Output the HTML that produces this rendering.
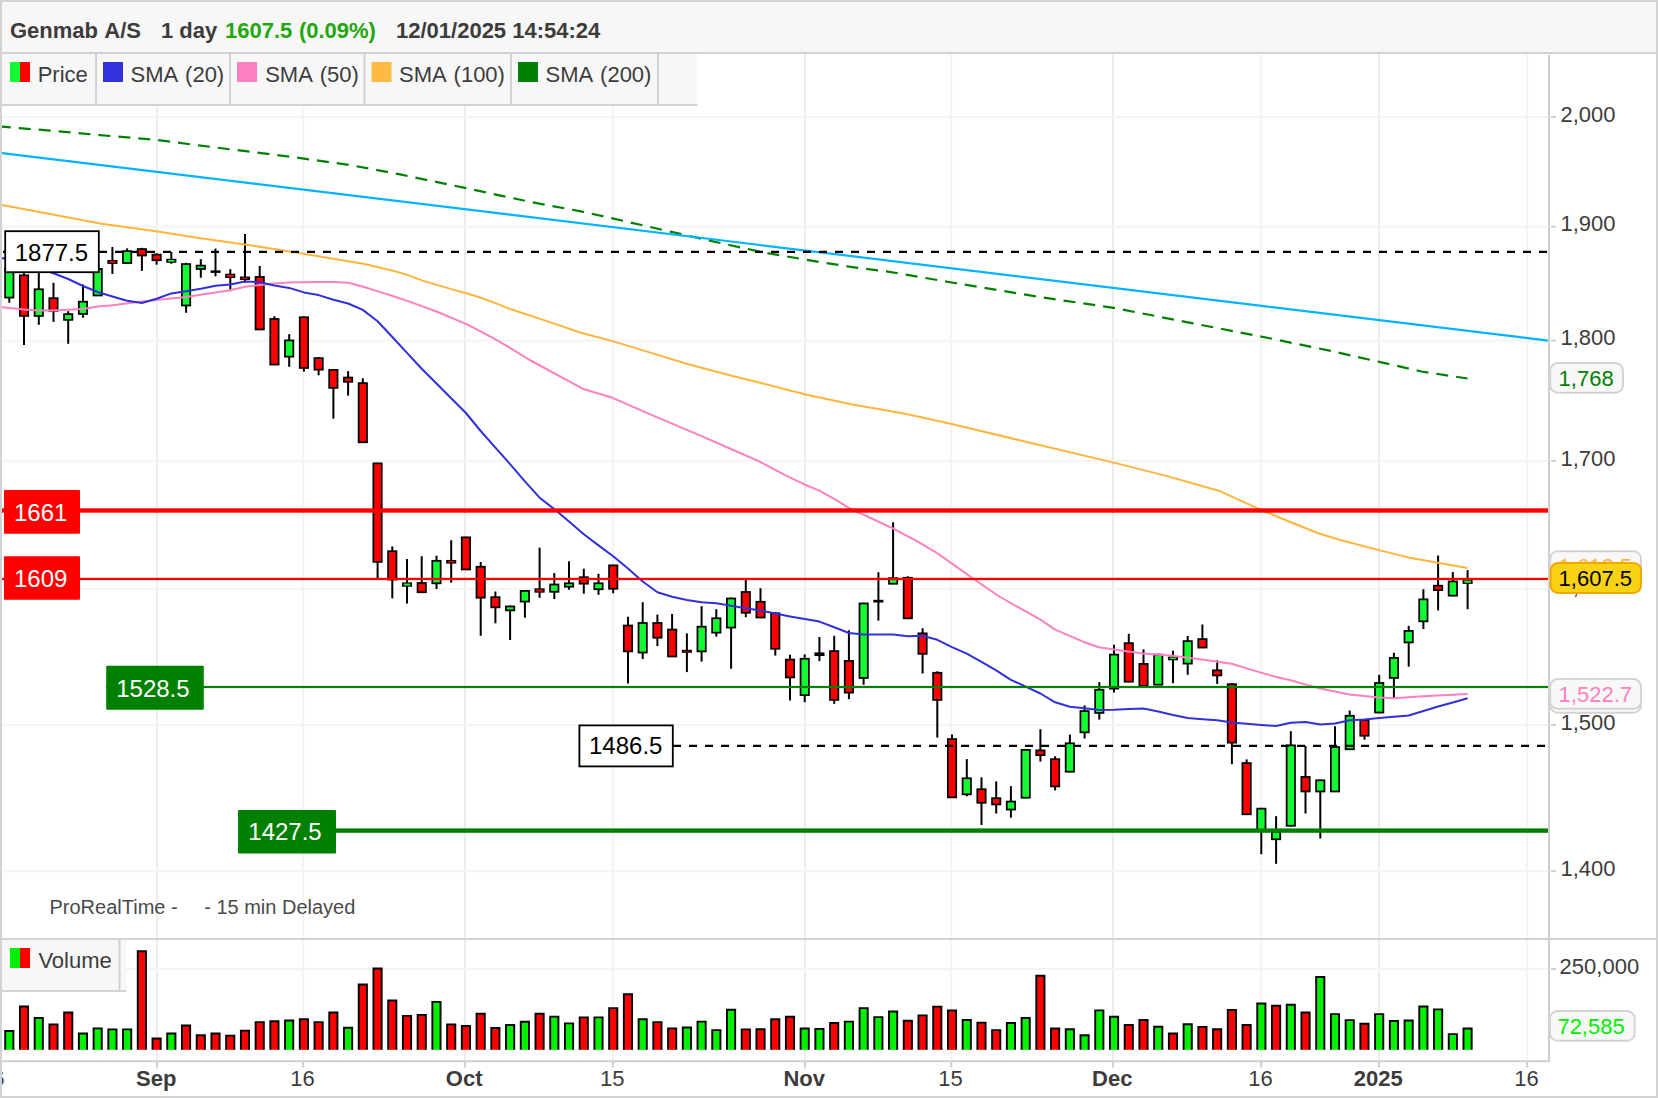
<!DOCTYPE html>
<html lang="en"><head><meta charset="utf-8"><title>Genmab A/S - 1 day</title>
<style>html,body{margin:0;padding:0;background:#fff;}svg{display:block;}</style></head>
<body>
<svg width="1658" height="1098" viewBox="0 0 1658 1098" font-family='"Liberation Sans", Arial, sans-serif'>
<rect x="0" y="0" width="1658" height="1098" fill="#ffffff"/>
<rect x="0" y="0" width="1658" height="53" fill="#f7f7f7"/>
<rect x="156" y="54" width="2" height="1006" fill="#ececec"/>
<rect x="464" y="54" width="2" height="1006" fill="#ececec"/>
<rect x="804" y="54" width="2" height="1006" fill="#ececec"/>
<rect x="1112" y="54" width="2" height="1006" fill="#ececec"/>
<rect x="1378" y="54" width="2" height="1006" fill="#ececec"/>
<rect x="302.2" y="54" width="2" height="1006" fill="#f3f3f3"/>
<rect x="612" y="54" width="2" height="1006" fill="#f3f3f3"/>
<rect x="950.3" y="54" width="2" height="1006" fill="#f3f3f3"/>
<rect x="1260.2" y="54" width="2" height="1006" fill="#f3f3f3"/>
<rect x="1526.2" y="54" width="2" height="1006" fill="#f3f3f3"/>
<rect x="2" y="116" width="1546" height="2" fill="#f4f4f4"/>
<rect x="2" y="225.7" width="1546" height="2" fill="#f4f4f4"/>
<rect x="2" y="339.6" width="1546" height="2" fill="#f4f4f4"/>
<rect x="2" y="459.8" width="1546" height="2" fill="#f4f4f4"/>
<rect x="2" y="588" width="1546" height="2" fill="#f4f4f4"/>
<rect x="2" y="724" width="1546" height="2" fill="#f4f4f4"/>
<rect x="2" y="870.2" width="1546" height="2" fill="#f4f4f4"/>
<rect x="2" y="968" width="1546" height="2" fill="#f4f4f4"/>
<rect x="1551" y="116" width="5" height="2" fill="#cfcfcf"/>
<text x="1560.4" y="121.7" font-size="22" fill="#3c3c3c">2,000</text>
<rect x="1551" y="225.7" width="5" height="2" fill="#cfcfcf"/>
<text x="1560.4" y="231.4" font-size="22" fill="#3c3c3c">1,900</text>
<rect x="1551" y="339.6" width="5" height="2" fill="#cfcfcf"/>
<text x="1560.4" y="345.3" font-size="22" fill="#3c3c3c">1,800</text>
<rect x="1551" y="459.8" width="5" height="2" fill="#cfcfcf"/>
<text x="1560.4" y="465.5" font-size="22" fill="#3c3c3c">1,700</text>
<rect x="1551" y="588" width="5" height="2" fill="#cfcfcf"/>
<text x="1560.4" y="593.7" font-size="22" fill="#3c3c3c">1,600</text>
<rect x="1551" y="724" width="5" height="2" fill="#cfcfcf"/>
<text x="1560.4" y="729.7" font-size="22" fill="#3c3c3c">1,500</text>
<rect x="1551" y="870.2" width="5" height="2" fill="#cfcfcf"/>
<text x="1560.4" y="875.9" font-size="22" fill="#3c3c3c">1,400</text>
<rect x="1551" y="968" width="5" height="2" fill="#cfcfcf"/>
<text x="1559.6" y="973.8" font-size="22" fill="#3c3c3c">250,000</text>
<g stroke="#000" stroke-width="1.75">
<line x1="9.3" y1="267.4" x2="9.3" y2="302.7" stroke-width="2"/>
<rect x="5.13" y="268.90" width="8.35" height="28.70" fill="#14fa32"/>
<line x1="24.0" y1="270.9" x2="24.0" y2="345.0" stroke-width="2"/>
<rect x="19.86" y="275.29" width="8.35" height="40.66" fill="#ff0000"/>
<line x1="38.8" y1="269.7" x2="38.8" y2="324.8" stroke-width="2"/>
<rect x="34.59" y="289.27" width="8.35" height="26.68" fill="#14fa32"/>
<line x1="53.5" y1="282.8" x2="53.5" y2="321.9" stroke-width="2"/>
<rect x="49.31" y="298.15" width="8.35" height="12.71" fill="#ff0000"/>
<line x1="68.2" y1="311.2" x2="68.2" y2="343.8" stroke-width="2"/>
<rect x="64.05" y="314.14" width="8.35" height="5.72" fill="#14fa32"/>
<line x1="83.0" y1="284.6" x2="83.0" y2="317.7" stroke-width="2"/>
<rect x="78.78" y="301.71" width="8.35" height="12.23" fill="#14fa32"/>
<line x1="97.7" y1="268.3" x2="97.7" y2="296.0" stroke-width="2"/>
<rect x="93.50" y="268.90" width="8.35" height="26.57" fill="#14fa32"/>
<line x1="112.4" y1="247.0" x2="112.4" y2="273.9" stroke-width="2"/>
<rect x="107.36" y="259.97" width="10.10" height="3.92" fill="#000" stroke="none"/>
<rect x="109.11" y="261.12" width="6.60" height="1.62" fill="#ff0000" stroke="none"/>
<line x1="127.1" y1="248.4" x2="127.1" y2="263.6" stroke-width="2"/>
<rect x="122.97" y="251.13" width="8.35" height="11.88" fill="#14fa32"/>
<line x1="141.9" y1="247.8" x2="141.9" y2="270.9" stroke-width="2"/>
<rect x="137.69" y="249.05" width="8.35" height="6.45" fill="#ff0000"/>
<line x1="156.6" y1="253.2" x2="156.6" y2="264.7" stroke-width="2"/>
<rect x="152.43" y="254.62" width="8.35" height="5.61" fill="#ff0000"/>
<line x1="171.3" y1="252.0" x2="171.3" y2="263.8" stroke-width="2"/>
<rect x="166.28" y="258.81" width="10.10" height="3.98" fill="#000" stroke="none"/>
<rect x="168.03" y="259.96" width="6.60" height="1.68" fill="#14fa32" stroke="none"/>
<line x1="186.1" y1="262.8" x2="186.1" y2="312.8" stroke-width="2"/>
<rect x="181.88" y="264.08" width="8.35" height="41.41" fill="#14fa32"/>
<line x1="200.8" y1="259.1" x2="200.8" y2="277.7" stroke-width="2"/>
<rect x="196.62" y="265.60" width="8.35" height="3.41" fill="#14fa32"/>
<line x1="215.5" y1="248.6" x2="215.5" y2="276.3" stroke-width="2"/>
<rect x="210.5" y="270.4" width="10.1" height="2.5" fill="#000" stroke="none"/>
<line x1="230.3" y1="269.2" x2="230.3" y2="291.2" stroke-width="2"/>
<rect x="225.20" y="273.67" width="10.10" height="4.32" fill="#000" stroke="none"/>
<rect x="226.95" y="274.82" width="6.60" height="2.02" fill="#ff0000" stroke="none"/>
<line x1="245.0" y1="234.1" x2="245.0" y2="282.8" stroke-width="2"/>
<rect x="239.93" y="276.55" width="10.10" height="3.47" fill="#000" stroke="none"/>
<rect x="241.68" y="277.70" width="6.60" height="1.17" fill="#ff0000" stroke="none"/>
<line x1="259.7" y1="265.9" x2="259.7" y2="330.0" stroke-width="2"/>
<rect x="255.53" y="276.91" width="8.35" height="52.56" fill="#ff0000"/>
<line x1="274.4" y1="316.2" x2="274.4" y2="365.2" stroke-width="2"/>
<rect x="270.26" y="318.95" width="8.35" height="45.63" fill="#ff0000"/>
<line x1="289.2" y1="334.2" x2="289.2" y2="366.8" stroke-width="2"/>
<rect x="285.00" y="340.40" width="8.35" height="16.25" fill="#14fa32"/>
<line x1="303.9" y1="316.2" x2="303.9" y2="371.6" stroke-width="2"/>
<rect x="299.73" y="317.26" width="8.35" height="50.70" fill="#ff0000"/>
<line x1="318.6" y1="357.2" x2="318.6" y2="375.3" stroke-width="2"/>
<rect x="314.45" y="358.13" width="8.35" height="11.52" fill="#ff0000"/>
<line x1="333.4" y1="369.4" x2="333.4" y2="418.7" stroke-width="2"/>
<rect x="329.19" y="369.95" width="8.35" height="17.93" fill="#ff0000"/>
<line x1="348.1" y1="371.1" x2="348.1" y2="395.6" stroke-width="2"/>
<rect x="343.92" y="377.55" width="8.35" height="4.25" fill="#ff0000"/>
<line x1="362.8" y1="378.3" x2="362.8" y2="442.8" stroke-width="2"/>
<rect x="358.64" y="383.13" width="8.35" height="59.14" fill="#ff0000"/>
<line x1="377.6" y1="462.8" x2="377.6" y2="579.8" stroke-width="2"/>
<rect x="373.38" y="463.38" width="8.35" height="98.50" fill="#ff0000"/>
<line x1="392.3" y1="546.4" x2="392.3" y2="598.4" stroke-width="2"/>
<rect x="388.11" y="551.20" width="8.35" height="28.41" fill="#ff0000"/>
<line x1="407.0" y1="559.1" x2="407.0" y2="603.5" stroke-width="2"/>
<rect x="401.96" y="582.41" width="10.10" height="4.32" fill="#000" stroke="none"/>
<rect x="403.71" y="583.56" width="6.60" height="2.02" fill="#14fa32" stroke="none"/>
<line x1="421.7" y1="556.2" x2="421.7" y2="592.8" stroke-width="2"/>
<rect x="417.56" y="582.95" width="8.35" height="9.32" fill="#ff0000"/>
<line x1="436.5" y1="555.7" x2="436.5" y2="589.0" stroke-width="2"/>
<rect x="432.30" y="560.82" width="8.35" height="22.49" fill="#14fa32"/>
<line x1="451.2" y1="540.2" x2="451.2" y2="582.7" stroke-width="2"/>
<rect x="446.15" y="559.95" width="10.10" height="3.64" fill="#000" stroke="none"/>
<rect x="447.90" y="561.10" width="6.60" height="1.34" fill="#ff0000" stroke="none"/>
<line x1="465.9" y1="536.8" x2="465.9" y2="570.0" stroke-width="2"/>
<rect x="461.75" y="537.35" width="8.35" height="32.12" fill="#ff0000"/>
<line x1="480.7" y1="562.0" x2="480.7" y2="635.8" stroke-width="2"/>
<rect x="476.49" y="566.75" width="8.35" height="30.94" fill="#ff0000"/>
<line x1="495.4" y1="591.5" x2="495.4" y2="623.3" stroke-width="2"/>
<rect x="491.22" y="597.15" width="8.35" height="10.17" fill="#ff0000"/>
<line x1="510.1" y1="605.5" x2="510.1" y2="640.0" stroke-width="2"/>
<rect x="505.94" y="606.44" width="8.35" height="3.92" fill="#14fa32"/>
<line x1="524.9" y1="590.3" x2="524.9" y2="617.7" stroke-width="2"/>
<rect x="520.68" y="590.90" width="8.35" height="10.67" fill="#14fa32"/>
<line x1="539.6" y1="547.6" x2="539.6" y2="597.8" stroke-width="2"/>
<rect x="534.53" y="588.34" width="10.10" height="4.32" fill="#000" stroke="none"/>
<rect x="536.28" y="589.49" width="6.60" height="2.02" fill="#ff0000" stroke="none"/>
<line x1="554.3" y1="573.1" x2="554.3" y2="599.1" stroke-width="2"/>
<rect x="550.13" y="584.49" width="8.35" height="7.29" fill="#14fa32"/>
<line x1="569.0" y1="561.3" x2="569.0" y2="589.8" stroke-width="2"/>
<rect x="564.87" y="583.30" width="8.35" height="3.41" fill="#14fa32"/>
<line x1="583.8" y1="568.7" x2="583.8" y2="593.7" stroke-width="2"/>
<rect x="579.60" y="577.22" width="8.35" height="6.45" fill="#ff0000"/>
<line x1="598.5" y1="573.8" x2="598.5" y2="594.9" stroke-width="2"/>
<rect x="594.33" y="583.30" width="8.35" height="5.94" fill="#14fa32"/>
<line x1="613.2" y1="564.5" x2="613.2" y2="593.2" stroke-width="2"/>
<rect x="609.06" y="565.40" width="8.35" height="23.34" fill="#ff0000"/>
<line x1="628.0" y1="616.8" x2="628.0" y2="683.6" stroke-width="2"/>
<rect x="623.78" y="625.53" width="8.35" height="25.87" fill="#ff0000"/>
<line x1="642.7" y1="602.2" x2="642.7" y2="659.1" stroke-width="2"/>
<rect x="638.51" y="622.99" width="8.35" height="29.59" fill="#14fa32"/>
<line x1="657.4" y1="614.6" x2="657.4" y2="646.1" stroke-width="2"/>
<rect x="653.25" y="622.99" width="8.35" height="14.73" fill="#ff0000"/>
<line x1="672.1" y1="614.0" x2="672.1" y2="657.0" stroke-width="2"/>
<rect x="667.98" y="629.58" width="8.35" height="26.89" fill="#ff0000"/>
<line x1="686.9" y1="633.4" x2="686.9" y2="672.1" stroke-width="2"/>
<rect x="681.83" y="649.82" width="10.10" height="2.96" fill="#000" stroke="none"/>
<rect x="683.58" y="650.95" width="6.60" height="0.70" fill="#ff0000" stroke="none"/>
<line x1="701.6" y1="606.2" x2="701.6" y2="661.6" stroke-width="2"/>
<rect x="697.44" y="626.71" width="8.35" height="24.69" fill="#14fa32"/>
<line x1="716.3" y1="609.2" x2="716.3" y2="636.6" stroke-width="2"/>
<rect x="712.16" y="618.26" width="8.35" height="14.39" fill="#14fa32"/>
<line x1="731.1" y1="597.4" x2="731.1" y2="668.7" stroke-width="2"/>
<rect x="726.89" y="598.50" width="8.35" height="29.08" fill="#14fa32"/>
<line x1="745.8" y1="579.2" x2="745.8" y2="617.2" stroke-width="2"/>
<rect x="741.62" y="591.98" width="8.35" height="20.81" fill="#ff0000"/>
<line x1="760.5" y1="588.2" x2="760.5" y2="618.1" stroke-width="2"/>
<rect x="756.36" y="601.78" width="8.35" height="15.74" fill="#ff0000"/>
<line x1="775.3" y1="612.2" x2="775.3" y2="655.6" stroke-width="2"/>
<rect x="771.09" y="613.26" width="8.35" height="35.50" fill="#ff0000"/>
<line x1="790.0" y1="654.7" x2="790.0" y2="700.5" stroke-width="2"/>
<rect x="785.82" y="659.58" width="8.35" height="17.85" fill="#ff0000"/>
<line x1="804.7" y1="654.4" x2="804.7" y2="702.2" stroke-width="2"/>
<rect x="800.55" y="658.78" width="8.35" height="36.35" fill="#14fa32"/>
<line x1="819.4" y1="637.0" x2="819.4" y2="661.1" stroke-width="2"/>
<rect x="814.4" y="652.4" width="10.1" height="3.6" fill="#000" stroke="none"/>
<line x1="834.2" y1="635.8" x2="834.2" y2="703.8" stroke-width="2"/>
<rect x="830.00" y="651.08" width="8.35" height="48.85" fill="#ff0000"/>
<line x1="848.9" y1="630.3" x2="848.9" y2="699.1" stroke-width="2"/>
<rect x="844.74" y="660.88" width="8.35" height="31.75" fill="#ff0000"/>
<line x1="863.6" y1="602.6" x2="863.6" y2="684.8" stroke-width="2"/>
<rect x="859.47" y="603.46" width="8.35" height="74.51" fill="#14fa32"/>
<line x1="878.4" y1="572.2" x2="878.4" y2="620.6" stroke-width="2"/>
<rect x="873.3" y="599.8" width="10.1" height="2.7" fill="#000" stroke="none"/>
<line x1="893.1" y1="522.2" x2="893.1" y2="584.3" stroke-width="2"/>
<rect x="888.93" y="578.13" width="8.35" height="5.61" fill="#14fa32"/>
<line x1="907.8" y1="576.2" x2="907.8" y2="618.9" stroke-width="2"/>
<rect x="903.65" y="577.79" width="8.35" height="40.57" fill="#ff0000"/>
<line x1="922.6" y1="628.2" x2="922.6" y2="673.5" stroke-width="2"/>
<rect x="918.38" y="633.36" width="8.35" height="20.47" fill="#ff0000"/>
<line x1="937.3" y1="671.3" x2="937.3" y2="737.6" stroke-width="2"/>
<rect x="933.12" y="672.78" width="8.35" height="27.15" fill="#ff0000"/>
<line x1="952.0" y1="734.6" x2="952.0" y2="798.0" stroke-width="2"/>
<rect x="947.85" y="739.08" width="8.35" height="58.30" fill="#ff0000"/>
<line x1="966.8" y1="759.1" x2="966.8" y2="796.3" stroke-width="2"/>
<rect x="962.58" y="778.26" width="8.35" height="16.08" fill="#14fa32"/>
<line x1="981.5" y1="777.4" x2="981.5" y2="825.0" stroke-width="2"/>
<rect x="977.31" y="789.24" width="8.35" height="13.54" fill="#ff0000"/>
<line x1="996.2" y1="781.4" x2="996.2" y2="813.5" stroke-width="2"/>
<rect x="992.04" y="798.19" width="8.35" height="6.28" fill="#ff0000"/>
<line x1="1010.9" y1="786.1" x2="1010.9" y2="817.7" stroke-width="2"/>
<rect x="1006.76" y="801.57" width="8.35" height="7.97" fill="#14fa32"/>
<line x1="1025.7" y1="749.0" x2="1025.7" y2="798.3" stroke-width="2"/>
<rect x="1021.50" y="749.89" width="8.35" height="47.83" fill="#14fa32"/>
<line x1="1040.4" y1="729.2" x2="1040.4" y2="761.6" stroke-width="2"/>
<rect x="1036.23" y="750.40" width="8.35" height="4.76" fill="#ff0000"/>
<line x1="1055.1" y1="756.2" x2="1055.1" y2="790.4" stroke-width="2"/>
<rect x="1050.95" y="759.18" width="8.35" height="27.22" fill="#ff0000"/>
<line x1="1069.9" y1="734.6" x2="1069.9" y2="772.3" stroke-width="2"/>
<rect x="1065.68" y="743.30" width="8.35" height="28.41" fill="#14fa32"/>
<line x1="1084.6" y1="705.4" x2="1084.6" y2="738.5" stroke-width="2"/>
<rect x="1080.41" y="711.05" width="8.35" height="21.31" fill="#14fa32"/>
<line x1="1099.3" y1="682.2" x2="1099.3" y2="719.6" stroke-width="2"/>
<rect x="1095.14" y="689.75" width="8.35" height="23.17" fill="#14fa32"/>
<line x1="1114.0" y1="644.8" x2="1114.0" y2="692.6" stroke-width="2"/>
<rect x="1109.88" y="654.62" width="8.35" height="33.98" fill="#14fa32"/>
<line x1="1128.8" y1="633.8" x2="1128.8" y2="682.2" stroke-width="2"/>
<rect x="1124.61" y="643.14" width="8.35" height="38.54" fill="#ff0000"/>
<line x1="1143.5" y1="649.3" x2="1143.5" y2="686.5" stroke-width="2"/>
<rect x="1139.34" y="663.91" width="8.35" height="21.99" fill="#ff0000"/>
<line x1="1158.2" y1="653.7" x2="1158.2" y2="685.3" stroke-width="2"/>
<rect x="1154.07" y="654.62" width="8.35" height="30.09" fill="#14fa32"/>
<line x1="1173.0" y1="650.7" x2="1173.0" y2="683.3" stroke-width="2"/>
<rect x="1167.92" y="656.45" width="10.10" height="3.81" fill="#000" stroke="none"/>
<rect x="1169.67" y="657.60" width="6.60" height="1.51" fill="#14fa32" stroke="none"/>
<line x1="1187.7" y1="636.0" x2="1187.7" y2="674.8" stroke-width="2"/>
<rect x="1183.53" y="641.11" width="8.35" height="22.49" fill="#14fa32"/>
<line x1="1202.4" y1="624.5" x2="1202.4" y2="648.1" stroke-width="2"/>
<rect x="1198.26" y="639.08" width="8.35" height="8.48" fill="#ff0000"/>
<line x1="1217.2" y1="660.3" x2="1217.2" y2="683.9" stroke-width="2"/>
<rect x="1212.99" y="670.33" width="8.35" height="5.10" fill="#ff0000"/>
<line x1="1231.9" y1="683.1" x2="1231.9" y2="764.2" stroke-width="2"/>
<rect x="1227.72" y="684.18" width="8.35" height="58.47" fill="#ff0000"/>
<line x1="1246.6" y1="759.4" x2="1246.6" y2="814.8" stroke-width="2"/>
<rect x="1242.44" y="763.06" width="8.35" height="51.21" fill="#ff0000"/>
<line x1="1261.3" y1="807.8" x2="1261.3" y2="854.2" stroke-width="2"/>
<rect x="1257.17" y="808.66" width="8.35" height="22.16" fill="#14fa32"/>
<line x1="1276.1" y1="816.2" x2="1276.1" y2="863.8" stroke-width="2"/>
<rect x="1271.90" y="831.97" width="8.35" height="7.29" fill="#14fa32"/>
<line x1="1290.8" y1="731.2" x2="1290.8" y2="826.7" stroke-width="2"/>
<rect x="1286.63" y="745.33" width="8.35" height="80.42" fill="#14fa32"/>
<line x1="1305.5" y1="745.9" x2="1305.5" y2="813.5" stroke-width="2"/>
<rect x="1301.37" y="776.91" width="8.35" height="14.56" fill="#ff0000"/>
<line x1="1320.3" y1="779.4" x2="1320.3" y2="838.5" stroke-width="2"/>
<rect x="1316.10" y="780.29" width="8.35" height="11.18" fill="#14fa32"/>
<line x1="1335.0" y1="726.2" x2="1335.0" y2="792.0" stroke-width="2"/>
<rect x="1330.83" y="747.02" width="8.35" height="44.45" fill="#14fa32"/>
<line x1="1349.7" y1="710.5" x2="1349.7" y2="749.8" stroke-width="2"/>
<rect x="1345.56" y="715.78" width="8.35" height="33.47" fill="#14fa32"/>
<line x1="1364.5" y1="719.6" x2="1364.5" y2="739.7" stroke-width="2"/>
<rect x="1360.29" y="720.17" width="8.35" height="15.57" fill="#ff0000"/>
<line x1="1379.2" y1="674.8" x2="1379.2" y2="713.1" stroke-width="2"/>
<rect x="1375.02" y="682.95" width="8.35" height="29.59" fill="#14fa32"/>
<line x1="1393.9" y1="652.8" x2="1393.9" y2="699.1" stroke-width="2"/>
<rect x="1389.75" y="657.95" width="8.35" height="19.96" fill="#14fa32"/>
<line x1="1408.7" y1="625.8" x2="1408.7" y2="666.7" stroke-width="2"/>
<rect x="1404.48" y="630.93" width="8.35" height="11.52" fill="#14fa32"/>
<line x1="1423.4" y1="589.3" x2="1423.4" y2="629.0" stroke-width="2"/>
<rect x="1419.20" y="599.35" width="8.35" height="21.99" fill="#14fa32"/>
<line x1="1438.1" y1="555.5" x2="1438.1" y2="610.4" stroke-width="2"/>
<rect x="1433.93" y="585.67" width="8.35" height="4.42" fill="#ff0000"/>
<line x1="1452.8" y1="572.1" x2="1452.8" y2="596.2" stroke-width="2"/>
<rect x="1448.66" y="581.45" width="8.35" height="14.22" fill="#14fa32"/>
<line x1="1467.6" y1="570.1" x2="1467.6" y2="609.2" stroke-width="2"/>
<rect x="1462.52" y="579.39" width="10.10" height="4.48" fill="#000" stroke="none"/>
<rect x="1464.27" y="580.54" width="6.60" height="2.18" fill="#14fa32" stroke="none"/>
</g>
<polyline points="2.0,126.7 50.0,130.6 100.2,135.1 157.8,140.1 200.4,145.6 250.4,151.8 300.5,158.1 350.6,165.1 400.0,174.4 464.8,187.9 529.7,201.8 580.9,211.4 612.6,218.4 671.4,231.9 716.6,242.2 761.9,252.1 805.6,259.7 852.4,267.2 886.2,271.3 951.8,282.5 1044.1,297.7 1113.8,307.9 1187.6,322.3 1261.5,336.6 1331.2,351.0 1380.4,362.1 1421.4,371.5 1467.6,378.5" fill="none" stroke="#008000" stroke-width="2.2" stroke-linejoin="round" stroke-dasharray="12 8" stroke-dashoffset="3.2"/>
<polyline points="2.0,153.1 1548.0,340.6" fill="none" stroke="#00b4ff" stroke-width="2.2" stroke-linejoin="round" />
<polyline points="2.0,205.1 50.0,214.0 100.2,223.5 157.8,231.5 200.4,238.2 250.4,245.3 300.5,253.3 340.6,260.0 363.4,263.7 392.1,270.5 407.3,274.9 422.5,280.6 452.9,289.6 466.4,293.3 481.6,298.0 496.8,303.6 510.0,309.0 541.7,319.4 580.9,332.7 612.6,341.1 650.3,352.6 686.5,363.7 731.7,375.8 761.9,383.3 805.6,394.5 852.4,404.4 880.0,409.2 908.7,414.6 951.8,424.0 1023.6,441.2 1113.8,462.6 1167.1,476.1 1220.4,491.3 1261.5,510.1 1290.2,522.0 1318.9,533.5 1340.5,540.0 1378.9,550.1 1408.3,557.4 1437.8,562.8 1467.6,567.9" fill="none" stroke="#ffb43c" stroke-width="2" stroke-linejoin="round" />
<polyline points="2.0,307.3 23.7,309.4 38.8,310.4 53.3,310.6 68.2,309.8 82.9,309.0 98.0,306.6 112.5,305.3 141.9,301.6 186.1,296.9 230.0,290.2 245.2,286.7 259.6,285.0 273.9,283.6 289.1,282.6 314.4,282.1 333.0,282.1 348.2,282.8 363.4,286.7 378.6,291.6 392.1,295.8 407.3,300.9 422.5,306.4 437.7,312.0 452.9,318.3 466.4,324.2 481.6,331.8 496.8,340.2 510.0,347.8 529.7,360.0 584.0,389.3 612.6,397.8 650.3,414.4 701.6,436.1 740.0,453.0 760.3,461.9 785.6,475.4 805.0,484.7 819.4,490.6 834.6,499.1 849.8,508.4 871.7,518.5 892.8,528.3 917.3,541.3 935.9,552.3 952.8,564.1 973.3,578.7 1000.0,597.0 1040.0,619.4 1055.2,629.6 1084.2,642.2 1099.0,647.3 1113.6,649.5 1143.0,653.5 1172.6,655.7 1202.1,659.4 1231.5,663.8 1260.9,672.6 1275.6,676.8 1290.5,680.2 1305.2,684.4 1320.3,688.6 1349.3,694.5 1378.9,697.6 1393.6,698.3 1423.0,696.2 1467.6,694.0" fill="none" stroke="#ff80c0" stroke-width="2" stroke-linejoin="round" />
<polyline points="2.0,258.0 9.3,259.5 24.0,264.0 38.8,268.5 53.5,273.2 68.2,279.0 83.0,286.0 97.7,292.0 112.4,296.5 127.1,300.8 141.9,303.0 156.6,298.8 171.3,293.4 186.1,291.2 200.8,288.7 215.5,285.8 230.3,284.4 245.0,281.4 259.7,282.3 274.4,285.5 289.2,287.9 303.9,292.4 318.6,295.1 333.4,299.8 348.1,303.5 362.8,309.9 377.6,321.2 392.3,337.0 407.0,352.9 421.7,368.8 436.5,383.5 451.2,398.3 465.9,413.0 480.7,431.0 495.4,447.6 510.1,464.2 524.9,481.3 539.6,497.7 554.3,509.1 569.0,521.6 583.8,534.2 598.5,545.4 613.2,556.2 628.0,568.6 642.7,581.5 657.4,592.2 672.1,596.7 686.9,600.0 701.6,602.2 716.3,603.3 731.1,605.8 745.8,608.2 760.5,610.5 775.3,613.5 790.0,616.4 804.7,619.0 819.4,621.6 834.2,627.3 848.9,633.0 863.6,634.5 878.4,634.6 893.1,634.6 907.8,636.2 922.6,635.8 937.3,639.8 952.0,647.1 966.8,653.7 981.5,661.8 996.2,670.4 1010.9,679.9 1025.7,686.6 1040.4,693.5 1055.1,702.3 1069.9,706.8 1084.6,708.2 1099.3,710.1 1114.0,709.8 1128.8,708.9 1143.5,708.6 1158.2,711.6 1173.0,714.9 1187.7,718.0 1202.4,719.2 1217.2,720.2 1231.9,722.4 1246.6,723.8 1261.3,725.0 1276.1,726.0 1290.8,722.8 1305.5,722.0 1320.3,724.5 1335.0,723.6 1349.7,720.3 1364.5,719.4 1379.2,718.0 1393.9,716.8 1408.7,715.5 1423.4,711.0 1438.1,706.5 1452.8,702.5 1467.6,698.3" fill="none" stroke="#3030dc" stroke-width="2" stroke-linejoin="round" />
<line x1="3" y1="251.9" x2="1547" y2="251.9" stroke="#000" stroke-width="2.2" stroke-dasharray="8 8"/>
<line x1="673" y1="745.8" x2="1547" y2="745.8" stroke="#000" stroke-width="2.2" stroke-dasharray="8 8" stroke-dashoffset="0"/>
<rect x="2" y="508.3" width="1546" height="4.4" fill="#ff0000"/>
<rect x="2" y="577.8" width="1546" height="2.3" fill="#ff0000"/>
<rect x="106" y="685.9" width="1442" height="2.2" fill="#008000"/>
<rect x="238" y="828.4" width="1310" height="4.4" fill="#008000"/>
<rect x="5.2" y="231.2" width="93.6" height="41" fill="#fff" stroke="#000" stroke-width="1.8"/>
<text x="14.7" y="260.8" font-size="24" fill="#000">1877.5</text>
<rect x="4" y="490" width="76" height="43.8" rx="1" fill="#ff0000"/>
<text x="14" y="520.6" font-size="24" fill="#fff">1661</text>
<rect x="4" y="556.2" width="76" height="43.6" rx="1" fill="#ff0000"/>
<text x="14" y="586.7" font-size="24" fill="#fff">1609</text>
<rect x="106.2" y="665.8" width="97.6" height="44" rx="1" fill="#008000"/>
<text x="116.2" y="696.5" font-size="24" fill="#fff">1528.5</text>
<rect x="579.4" y="725.4" width="93.4" height="41" fill="#fff" stroke="#000" stroke-width="1.8"/>
<text x="589" y="754.2" font-size="24" fill="#000">1486.5</text>
<rect x="238" y="810" width="98" height="43.4" rx="1" fill="#008000"/>
<text x="248.3" y="840.4" font-size="24" fill="#fff">1427.5</text>
<text x="49.5" y="914.2" font-size="20" fill="#4a4a4a">ProRealTime -</text>
<text x="204.2" y="914.2" font-size="20" fill="#4a4a4a">- 15 min Delayed</text>
<rect x="2" y="54" width="695.5" height="50" fill="#f7f7f7"/>
<rect x="2" y="104" width="695.5" height="2" fill="#d2d2d2"/>
<rect x="95" y="54" width="2" height="50" fill="#d2d2d2"/>
<rect x="229" y="54" width="2" height="50" fill="#d2d2d2"/>
<rect x="363.5" y="54" width="2" height="50" fill="#d2d2d2"/>
<rect x="510" y="54" width="2" height="50" fill="#d2d2d2"/>
<rect x="657" y="54" width="2" height="50" fill="#d2d2d2"/>
<rect x="10" y="62" width="10" height="20" fill="#14fa32"/><rect x="20" y="62" width="10" height="20" fill="#ff0000"/>
<rect x="103" y="62" width="20" height="20" fill="#3232dc"/>
<rect x="237" y="62" width="20" height="20" fill="#ff80c0"/>
<rect x="371.5" y="62" width="20" height="20" fill="#ffbb44"/>
<rect x="518" y="62" width="20" height="20" fill="#008000"/>
<text x="37.7" y="81.7" font-size="22" fill="#3c3c3c" style="word-spacing:2px">Price</text>
<text x="130.5" y="81.7" font-size="22" fill="#3c3c3c" style="word-spacing:2px">SMA (20)</text>
<text x="265.2" y="81.7" font-size="22" fill="#3c3c3c" style="word-spacing:2px">SMA (50)</text>
<text x="399" y="81.7" font-size="22" fill="#3c3c3c" style="word-spacing:2px">SMA (100)</text>
<text x="545.5" y="81.7" font-size="22" fill="#3c3c3c" style="word-spacing:2px">SMA (200)</text>
<rect x="0" y="52" width="1658" height="2" fill="#d2d2d2"/>
<g font-size="22" font-weight="bold" fill="#3c3c3c">
<text x="10" y="38" style="word-spacing:1px">Genmab A/S</text>
<text x="161" y="38">1 day</text>
<text x="225" y="38" fill="#22a70c" style="word-spacing:0.5px">1607.5 (0.09%)</text>
<text x="396" y="38">12/01/2025 14:54:24</text>
</g>
<rect x="2" y="938" width="1654" height="2" fill="#d2d2d2"/>
<g stroke="#000" stroke-width="1.9">
<path d="M5.20,1049.8 L5.20,1030.93 L13.40,1030.93 L13.40,1049.8" fill="#00f000"/>
<path d="M19.93,1049.8 L19.93,1006.44 L28.13,1006.44 L28.13,1049.8" fill="#ff0000"/>
<path d="M34.66,1049.8 L34.66,1017.93 L42.86,1017.93 L42.86,1049.8" fill="#00f000"/>
<path d="M49.39,1049.8 L49.39,1024.35 L57.59,1024.35 L57.59,1049.8" fill="#ff0000"/>
<path d="M64.12,1049.8 L64.12,1012.52 L72.32,1012.52 L72.32,1049.8" fill="#ff0000"/>
<path d="M78.85,1049.8 L78.85,1033.47 L87.05,1033.47 L87.05,1049.8" fill="#00f000"/>
<path d="M93.58,1049.8 L93.58,1028.40 L101.78,1028.40 L101.78,1049.8" fill="#00f000"/>
<path d="M108.31,1049.8 L108.31,1029.41 L116.51,1029.41 L116.51,1049.8" fill="#00f000"/>
<path d="M123.04,1049.8 L123.04,1029.41 L131.24,1029.41 L131.24,1049.8" fill="#00f000"/>
<path d="M137.77,1049.8 L137.77,951.22 L145.97,951.22 L145.97,1049.8" fill="#ff0000"/>
<path d="M152.50,1049.8 L152.50,1038.53 L160.70,1038.53 L160.70,1049.8" fill="#ff0000"/>
<path d="M167.23,1049.8 L167.23,1033.47 L175.43,1033.47 L175.43,1049.8" fill="#00f000"/>
<path d="M181.96,1049.8 L181.96,1025.53 L190.16,1025.53 L190.16,1049.8" fill="#ff0000"/>
<path d="M196.69,1049.8 L196.69,1035.32 L204.89,1035.32 L204.89,1049.8" fill="#ff0000"/>
<path d="M211.42,1049.8 L211.42,1033.47 L219.62,1033.47 L219.62,1049.8" fill="#ff0000"/>
<path d="M226.15,1049.8 L226.15,1035.66 L234.35,1035.66 L234.35,1049.8" fill="#ff0000"/>
<path d="M240.88,1049.8 L240.88,1030.60 L249.08,1030.60 L249.08,1049.8" fill="#ff0000"/>
<path d="M255.61,1049.8 L255.61,1022.15 L263.81,1022.15 L263.81,1049.8" fill="#ff0000"/>
<path d="M270.34,1049.8 L270.34,1021.31 L278.54,1021.31 L278.54,1049.8" fill="#ff0000"/>
<path d="M285.07,1049.8 L285.07,1020.46 L293.27,1020.46 L293.27,1049.8" fill="#00f000"/>
<path d="M299.80,1049.8 L299.80,1019.28 L308.00,1019.28 L308.00,1049.8" fill="#ff0000"/>
<path d="M314.53,1049.8 L314.53,1022.15 L322.73,1022.15 L322.73,1049.8" fill="#ff0000"/>
<path d="M329.26,1049.8 L329.26,1012.52 L337.46,1012.52 L337.46,1049.8" fill="#ff0000"/>
<path d="M343.99,1049.8 L343.99,1027.72 L352.19,1027.72 L352.19,1049.8" fill="#00f000"/>
<path d="M358.72,1049.8 L358.72,984.49 L366.92,984.49 L366.92,1049.8" fill="#ff0000"/>
<path d="M373.45,1049.8 L373.45,968.44 L381.65,968.44 L381.65,1049.8" fill="#ff0000"/>
<path d="M388.18,1049.8 L388.18,1000.53 L396.38,1000.53 L396.38,1049.8" fill="#ff0000"/>
<path d="M402.91,1049.8 L402.91,1015.90 L411.11,1015.90 L411.11,1049.8" fill="#ff0000"/>
<path d="M417.64,1049.8 L417.64,1014.89 L425.84,1014.89 L425.84,1049.8" fill="#ff0000"/>
<path d="M432.37,1049.8 L432.37,1001.88 L440.57,1001.88 L440.57,1049.8" fill="#00f000"/>
<path d="M447.10,1049.8 L447.10,1024.35 L455.30,1024.35 L455.30,1049.8" fill="#ff0000"/>
<path d="M461.83,1049.8 L461.83,1026.04 L470.03,1026.04 L470.03,1049.8" fill="#ff0000"/>
<path d="M476.56,1049.8 L476.56,1013.71 L484.76,1013.71 L484.76,1049.8" fill="#ff0000"/>
<path d="M491.29,1049.8 L491.29,1028.06 L499.49,1028.06 L499.49,1049.8" fill="#ff0000"/>
<path d="M506.02,1049.8 L506.02,1025.02 L514.22,1025.02 L514.22,1049.8" fill="#00f000"/>
<path d="M520.75,1049.8 L520.75,1021.81 L528.95,1021.81 L528.95,1049.8" fill="#00f000"/>
<path d="M535.48,1049.8 L535.48,1013.71 L543.68,1013.71 L543.68,1049.8" fill="#ff0000"/>
<path d="M550.21,1049.8 L550.21,1016.58 L558.41,1016.58 L558.41,1049.8" fill="#00f000"/>
<path d="M564.94,1049.8 L564.94,1023.33 L573.14,1023.33 L573.14,1049.8" fill="#00f000"/>
<path d="M579.67,1049.8 L579.67,1017.42 L587.87,1017.42 L587.87,1049.8" fill="#ff0000"/>
<path d="M594.40,1049.8 L594.40,1017.42 L602.60,1017.42 L602.60,1049.8" fill="#00f000"/>
<path d="M609.13,1049.8 L609.13,1008.13 L617.33,1008.13 L617.33,1049.8" fill="#ff0000"/>
<path d="M623.86,1049.8 L623.86,994.28 L632.06,994.28 L632.06,1049.8" fill="#ff0000"/>
<path d="M638.59,1049.8 L638.59,1019.28 L646.79,1019.28 L646.79,1049.8" fill="#00f000"/>
<path d="M653.32,1049.8 L653.32,1022.15 L661.52,1022.15 L661.52,1049.8" fill="#ff0000"/>
<path d="M668.05,1049.8 L668.05,1028.40 L676.25,1028.40 L676.25,1049.8" fill="#ff0000"/>
<path d="M682.78,1049.8 L682.78,1027.56 L690.98,1027.56 L690.98,1049.8" fill="#00f000"/>
<path d="M697.51,1049.8 L697.51,1021.64 L705.71,1021.64 L705.71,1049.8" fill="#00f000"/>
<path d="M712.24,1049.8 L712.24,1030.09 L720.44,1030.09 L720.44,1049.8" fill="#00f000"/>
<path d="M726.97,1049.8 L726.97,1009.82 L735.17,1009.82 L735.17,1049.8" fill="#00f000"/>
<path d="M741.70,1049.8 L741.70,1029.41 L749.90,1029.41 L749.90,1049.8" fill="#ff0000"/>
<path d="M756.43,1049.8 L756.43,1029.24 L764.63,1029.24 L764.63,1049.8" fill="#ff0000"/>
<path d="M771.16,1049.8 L771.16,1019.28 L779.36,1019.28 L779.36,1049.8" fill="#ff0000"/>
<path d="M785.89,1049.8 L785.89,1016.75 L794.09,1016.75 L794.09,1049.8" fill="#ff0000"/>
<path d="M800.62,1049.8 L800.62,1028.57 L808.82,1028.57 L808.82,1049.8" fill="#00f000"/>
<path d="M815.35,1049.8 L815.35,1028.91 L823.55,1028.91 L823.55,1049.8" fill="#00f000"/>
<path d="M830.08,1049.8 L830.08,1023.00 L838.28,1023.00 L838.28,1049.8" fill="#ff0000"/>
<path d="M844.81,1049.8 L844.81,1021.64 L853.01,1021.64 L853.01,1049.8" fill="#00f000"/>
<path d="M859.54,1049.8 L859.54,1008.13 L867.74,1008.13 L867.74,1049.8" fill="#00f000"/>
<path d="M874.27,1049.8 L874.27,1017.08 L882.47,1017.08 L882.47,1049.8" fill="#00f000"/>
<path d="M889.00,1049.8 L889.00,1011.51 L897.20,1011.51 L897.20,1049.8" fill="#00f000"/>
<path d="M903.73,1049.8 L903.73,1020.80 L911.93,1020.80 L911.93,1049.8" fill="#ff0000"/>
<path d="M918.46,1049.8 L918.46,1015.40 L926.66,1015.40 L926.66,1049.8" fill="#ff0000"/>
<path d="M933.19,1049.8 L933.19,1006.61 L941.39,1006.61 L941.39,1049.8" fill="#ff0000"/>
<path d="M947.92,1049.8 L947.92,1010.33 L956.12,1010.33 L956.12,1049.8" fill="#ff0000"/>
<path d="M962.65,1049.8 L962.65,1019.96 L970.85,1019.96 L970.85,1049.8" fill="#00f000"/>
<path d="M977.38,1049.8 L977.38,1022.66 L985.58,1022.66 L985.58,1049.8" fill="#ff0000"/>
<path d="M992.11,1049.8 L992.11,1030.09 L1000.31,1030.09 L1000.31,1049.8" fill="#ff0000"/>
<path d="M1006.84,1049.8 L1006.84,1023.00 L1015.04,1023.00 L1015.04,1049.8" fill="#00f000"/>
<path d="M1021.57,1049.8 L1021.57,1017.93 L1029.77,1017.93 L1029.77,1049.8" fill="#00f000"/>
<path d="M1036.30,1049.8 L1036.30,975.71 L1044.50,975.71 L1044.50,1049.8" fill="#ff0000"/>
<path d="M1051.03,1049.8 L1051.03,1028.57 L1059.23,1028.57 L1059.23,1049.8" fill="#ff0000"/>
<path d="M1065.76,1049.8 L1065.76,1029.24 L1073.96,1029.24 L1073.96,1049.8" fill="#00f000"/>
<path d="M1080.49,1049.8 L1080.49,1035.32 L1088.69,1035.32 L1088.69,1049.8" fill="#00f000"/>
<path d="M1095.22,1049.8 L1095.22,1010.33 L1103.42,1010.33 L1103.42,1049.8" fill="#00f000"/>
<path d="M1109.95,1049.8 L1109.95,1016.75 L1118.15,1016.75 L1118.15,1049.8" fill="#00f000"/>
<path d="M1124.68,1049.8 L1124.68,1025.02 L1132.88,1025.02 L1132.88,1049.8" fill="#ff0000"/>
<path d="M1139.41,1049.8 L1139.41,1019.96 L1147.61,1019.96 L1147.61,1049.8" fill="#ff0000"/>
<path d="M1154.14,1049.8 L1154.14,1026.71 L1162.34,1026.71 L1162.34,1049.8" fill="#00f000"/>
<path d="M1168.87,1049.8 L1168.87,1033.47 L1177.07,1033.47 L1177.07,1049.8" fill="#ff0000"/>
<path d="M1183.60,1049.8 L1183.60,1024.18 L1191.80,1024.18 L1191.80,1049.8" fill="#00f000"/>
<path d="M1198.33,1049.8 L1198.33,1026.88 L1206.53,1026.88 L1206.53,1049.8" fill="#ff0000"/>
<path d="M1213.06,1049.8 L1213.06,1029.24 L1221.26,1029.24 L1221.26,1049.8" fill="#ff0000"/>
<path d="M1227.79,1049.8 L1227.79,1009.99 L1235.99,1009.99 L1235.99,1049.8" fill="#ff0000"/>
<path d="M1242.52,1049.8 L1242.52,1025.02 L1250.72,1025.02 L1250.72,1049.8" fill="#ff0000"/>
<path d="M1257.25,1049.8 L1257.25,1003.57 L1265.45,1003.57 L1265.45,1049.8" fill="#00f000"/>
<path d="M1271.98,1049.8 L1271.98,1005.77 L1280.18,1005.77 L1280.18,1049.8" fill="#ff0000"/>
<path d="M1286.71,1049.8 L1286.71,1004.76 L1294.91,1004.76 L1294.91,1049.8" fill="#00f000"/>
<path d="M1301.44,1049.8 L1301.44,1012.57 L1309.64,1012.57 L1309.64,1049.8" fill="#ff0000"/>
<path d="M1316.17,1049.8 L1316.17,976.94 L1324.37,976.94 L1324.37,1049.8" fill="#00f000"/>
<path d="M1330.90,1049.8 L1330.90,1014.09 L1339.10,1014.09 L1339.10,1049.8" fill="#00f000"/>
<path d="M1345.63,1049.8 L1345.63,1020.13 L1353.83,1020.13 L1353.83,1049.8" fill="#00f000"/>
<path d="M1360.36,1049.8 L1360.36,1023.80 L1368.56,1023.80 L1368.56,1049.8" fill="#ff0000"/>
<path d="M1375.09,1049.8 L1375.09,1014.09 L1383.29,1014.09 L1383.29,1049.8" fill="#00f000"/>
<path d="M1389.82,1049.8 L1389.82,1021.00 L1398.02,1021.00 L1398.02,1049.8" fill="#00f000"/>
<path d="M1404.55,1049.8 L1404.55,1020.56 L1412.75,1020.56 L1412.75,1049.8" fill="#00f000"/>
<path d="M1419.28,1049.8 L1419.28,1006.53 L1427.48,1006.53 L1427.48,1049.8" fill="#00f000"/>
<path d="M1434.01,1049.8 L1434.01,1009.33 L1442.21,1009.33 L1442.21,1049.8" fill="#00f000"/>
<path d="M1448.74,1049.8 L1448.74,1034.17 L1456.94,1034.17 L1456.94,1049.8" fill="#00f000"/>
<path d="M1463.47,1049.8 L1463.47,1028.55 L1471.67,1028.55 L1471.67,1049.8" fill="#00f000"/>
</g>
<rect x="2" y="940" width="124.5" height="50" fill="#f7f7f7"/>
<rect x="2" y="990" width="124.5" height="2" fill="#d2d2d2"/>
<rect x="118.5" y="940" width="2" height="50" fill="#d2d2d2"/>
<rect x="10" y="948" width="10" height="20" fill="#00f000"/><rect x="20" y="948" width="10" height="20" fill="#ff0000"/>
<text x="38.4" y="967.5" font-size="22" fill="#3c3c3c">Volume</text>
<rect x="1548" y="55" width="2" height="1007" fill="#cfcfcf"/>
<rect x="2" y="1060.2" width="1548" height="2" fill="#cfcfcf"/>
<rect x="156" y="1061.5" width="2" height="6" fill="#cfcfcf"/>
<text x="156.2" y="1086.2" font-size="22" text-anchor="middle" fill="#3c3c3c" font-weight="bold">Sep</text>
<rect x="302.2" y="1061.5" width="2" height="6" fill="#cfcfcf"/>
<text x="302.4" y="1086.2" font-size="22" text-anchor="middle" fill="#3c3c3c">16</text>
<rect x="464" y="1061.5" width="2" height="6" fill="#cfcfcf"/>
<text x="464.2" y="1086.2" font-size="22" text-anchor="middle" fill="#3c3c3c" font-weight="bold">Oct</text>
<rect x="612" y="1061.5" width="2" height="6" fill="#cfcfcf"/>
<text x="612.2" y="1086.2" font-size="22" text-anchor="middle" fill="#3c3c3c">15</text>
<rect x="804" y="1061.5" width="2" height="6" fill="#cfcfcf"/>
<text x="804.2" y="1086.2" font-size="22" text-anchor="middle" fill="#3c3c3c" font-weight="bold">Nov</text>
<rect x="950.3" y="1061.5" width="2" height="6" fill="#cfcfcf"/>
<text x="950.5" y="1086.2" font-size="22" text-anchor="middle" fill="#3c3c3c">15</text>
<rect x="1112" y="1061.5" width="2" height="6" fill="#cfcfcf"/>
<text x="1112.2" y="1086.2" font-size="22" text-anchor="middle" fill="#3c3c3c" font-weight="bold">Dec</text>
<rect x="1260.2" y="1061.5" width="2" height="6" fill="#cfcfcf"/>
<text x="1260.4" y="1086.2" font-size="22" text-anchor="middle" fill="#3c3c3c">16</text>
<rect x="1378" y="1061.5" width="2" height="6" fill="#cfcfcf"/>
<text x="1378.2" y="1086.2" font-size="22" text-anchor="middle" fill="#3c3c3c" font-weight="bold">2025</text>
<rect x="1526.2" y="1061.5" width="2" height="6" fill="#cfcfcf"/>
<text x="1526.4" y="1086.2" font-size="22" text-anchor="middle" fill="#3c3c3c">16</text>
<text x="4.4" y="1086.2" font-size="22" text-anchor="end" fill="#3c3c3c">16</text>
<rect x="1550.2" y="363.1" width="72.8" height="29.6" rx="7.5" ry="7.5" fill="#f8f8f8" stroke="#d4d4d4" stroke-width="2"/>
<text x="1558.6" y="385.9" font-size="22" fill="#008000">1,768</text>
<rect x="1550.2" y="551.2" width="90.8" height="29.6" rx="7.5" ry="7.5" fill="#f8f8f8" stroke="#d4d4d4" stroke-width="2"/>
<text x="1558.6" y="573.6" font-size="22" fill="#ffb43c">1,612.5</text>
<rect x="1550.6" y="563.1" width="90.4" height="29.8" rx="7.5" ry="7.5" fill="#fad214" stroke="#f0a800" stroke-width="2"/>
<text x="1558.6" y="585.9" font-size="22" fill="#000">1,607.5</text>
<rect x="1550.2" y="683.2" width="90.8" height="29.6" rx="7.5" ry="7.5" fill="#f8f8f8" stroke="#d4d4d4" stroke-width="2"/>
<rect x="1550.2" y="679.1" width="90.8" height="29.6" rx="7.5" ry="7.5" fill="#f8f8f8" stroke="#d4d4d4" stroke-width="2"/>
<text x="1558.6" y="702" font-size="22" fill="#ff80c0">1,522.7</text>
<rect x="1550" y="1011.1" width="84.6" height="29.7" rx="7.5" ry="7.5" fill="#f8f8f8" stroke="#d4d4d4" stroke-width="2"/>
<text x="1557.4" y="1034.3" font-size="22" fill="#00ee00">72,585</text>
<rect x="0" y="0" width="1658" height="2" fill="#d2d2d2"/>
<rect x="0" y="1096" width="1658" height="2" fill="#d2d2d2"/>
<rect x="0" y="0" width="2" height="1098" fill="#d2d2d2"/>
<rect x="1656" y="0" width="2" height="1098" fill="#d2d2d2"/>
</svg>
</body></html>
